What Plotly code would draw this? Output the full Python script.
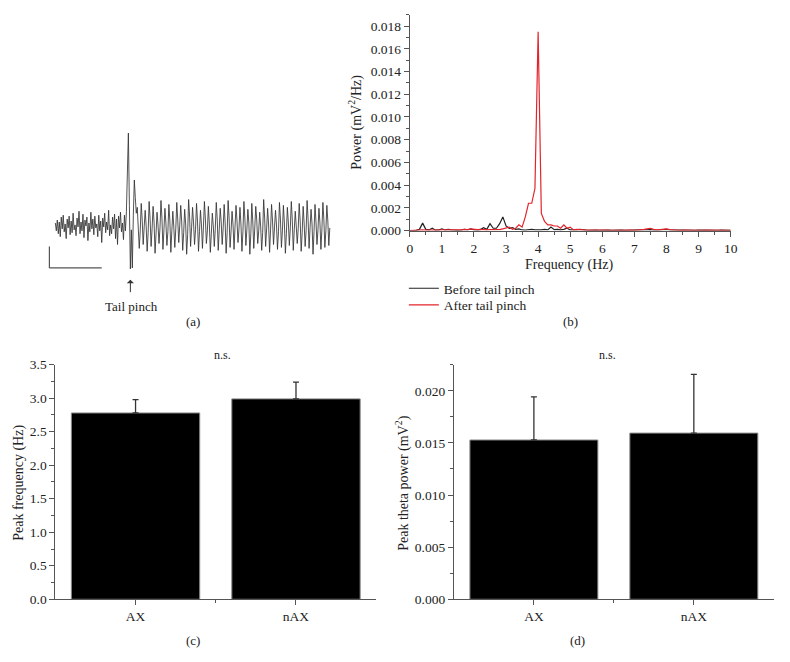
import plotly.graph_objects as go

W, H = 790, 662
FONT = "Liberation Serif"

# ---------------- data ----------------
# (a) raw trace amplitude (arbitrary units, one sample per time step)
trace_before = [2, -6, 5, -9, 3, -12, 8, -4, 10, -7, 1, -14, 6, -3, 9, -10, 4, -8, 12, -5,
                0, -11, 7, -2, 14, -9, 3, -6, 11, -13, 5, -1, 8, -16, 2, -7, 13, -4, 6, -10,
                9, -3, 1, -12, 10, -6, 4, -18, 7, -2, 12, -8, 3, -5, 15, -11, 0, -9, 8, -4,
                11, -14, 6, -20, 9, -3, 13, -7, 2, -15, 10, -6, 14]
trace_pinch = [60, 94, 20, -45, -5, -44, 10, 46, 28, 12]
trace_after = [18, 2, -24, -6, 22, 5, -20, -2, 15, -1, -27, -8, 24, 6, -22, -4, 19, 3, -29, -9,
               13, 0, -19, -3, 25, 7, -25, -5, 17, 2, -21, -7, 21, 4, -28, -6, 14, -2, -23, -4,
               23, 5, -18, -1, 20, 3, -26, -8, 16, 1, -30, -10, 26, 8, -22, -3, 18, 2, -20, -5,
               22, 4, -27, -7, 15, 0, -24, -2, 24, 6, -19, -6, 19, 1, -28, -9, 12, -1, -22, -4,
               23, 5, -26, -5, 17, 3, -20, -3, 21, 2, -29, -8, 25, 7, -23, -6, 14, 0, -25, -2,
               20, 4, -18, -4, 18, 1, -27, -7, 24, 6, -21, -5, 16, 2, -30, -9, 22, 3, -24, -3,
               19, 5, -19, -6, 13, -2, -26, -8, 26, 7, -22, -4, 17, 1, -28, -5, 21, 4, -20, -2,
               15, 0, -25, -7, 23, 6, -23, -6, 20, 2, -29, -9, 18, 3, -21, -3, 24, 5, -26, -5,
               14, -1, -19, -4, 22, 4, -27, -8, 19, 2, -22, -6, 25, 6, -24, -3, 16, 1, -30, -7,
               21, 3, -20, -5, 17, 2, -25, -4, 23, 5, -23, -6, 20, 4, -21, -3]
trace_a = trace_before + trace_pinch + trace_after

# (b) power spectra, 0.0 .. 10.0 Hz in 0.1 Hz steps
freq = [round(i * 0.1, 1) for i in range(101)]
power_before = [0, 0, 0.00002, 0.0001, 0.00065, 0.0001, 0.00005, 0.0002, 0.00003, 0.00005,
                0.00015, 0.00005, 0.0001, 0.00005, 0.00002, 0.00001, 0.00003, 0.0001, 0.00005, 0.00015,
                0.00005, 0.00003, 0.00008, 0.00025, 0.0001, 0.0006, 0.0002, 0.0002, 0.0006, 0.0012,
                0.0004, 0.0002, 0.00025, 0.0001, 0.00015, 0.00005, 0.00003, 0.00008, 0.0001, 0.00005,
                0.00002, 0.00005, 0.0001, 0.00005, 0.0003, 0.00008, 0.0001, 0.00005, 0.0001, 0.0002,
                0.00005, 0.00003, 0.00006, 0.0001, 0.00004, 0.00003, 0.00002, 0.00005, 0.00003, 0.00002,
                0.00004, 0.00002, 0.00003, 0.00002, 0.00004, 0.00002, 0.00003, 0.00002, 0.00003, 0.00002,
                0.00003, 0.00002, 0.00004, 0.00003, 0.00006, 0.00008, 0.00004, 0.00002, 0.00005, 0.00008,
                0.0001, 0.00005, 0.00003, 0.00002, 0.00003, 0.00004, 0.00002, 0.00003, 0.00002, 0.00002,
                0.00003, 0.00002, 0.00004, 0.00002, 0.00003, 0.00002, 0.00002, 0.00003, 0.00002, 0.00002,
                0.00002]
power_after = [0, 0.00003, 0.00005, 0.00003, 0.00006, 0.00004, 0.00003, 0.00005, 0.00004, 0.00003,
               0.00006, 0.00005, 0.00008, 0.00005, 0.00004, 0.00003, 0.00005, 0.0001, 0.00008, 0.00015,
               0.0001, 0.00008, 0.0001, 0.00006, 0.00005, 0.00007, 0.00006, 0.0001, 0.00008, 0.00015,
               0.0002, 0.0003, 0.0001, 0.0002, 0.0005, 0.0003, 0.0012, 0.0024, 0.0024, 0.0037,
               0.0175, 0.0015, 0.0008, 0.0005, 0.0005, 0.0004, 0.0004, 0.0002, 0.0005, 0.0002,
               0.0003, 0.00005, 0.0001, 0.0001, 0.00005, 0.00003, 0.00004, 0.00003, 0.00005, 0.00003,
               0.00002, 0.00003, 0.00002, 0.00003, 0.00002, 0.00003, 0.00002, 0.00003, 0.00002, 0.00003,
               0.00002, 0.00003, 0.00005, 0.0001, 0.00015, 0.0002, 0.0001, 0.00005, 0.00008, 0.0001,
               0.00015, 0.00008, 0.00004, 0.00003, 0.00002, 0.00003, 0.00002, 0.00003, 0.00002, 0.00002,
               0.00003, 0.00002, 0.00003, 0.00002, 0.00002, 0.00003, 0.00002, 0.00002, 0.00002, 0.00002,
               0.00002]

# (c), (d) group means and SEM
groups = ["AX", "nAX"]
peak_freq = [2.78, 2.99]
peak_freq_err = [0.20, 0.25]
peak_power = [0.01528, 0.01594]
peak_power_err = [0.00413, 0.00563]

# ---------------- helpers (screen px -> paper) ----------------
def px(x):
    return x / W

def py(y):
    return 1 - y / H

fig = go.Figure()

# (a) trace
fig.add_trace(go.Scatter(y=trace_a, x0=0, dx=1, mode="lines",
                         line=dict(color="#333333", width=0.85),
                         xaxis="x", yaxis="y", showlegend=False, hoverinfo="skip"))

# (b) spectra
fig.add_trace(go.Scatter(x=freq, y=power_before, mode="lines", name="Before tail pinch",
                         line=dict(color="#222222", width=1.2), xaxis="x2", yaxis="y2",
                         legend="legend"))
fig.add_trace(go.Scatter(x=freq, y=power_after, mode="lines", name="After tail pinch",
                         line=dict(color="#e3242b", width=1.2), xaxis="x2", yaxis="y2",
                         legend="legend2"))

# (c) bars
fig.add_trace(go.Bar(x=[0, 1], y=peak_freq, width=0.8,
                     marker=dict(color="black", line=dict(color="#8a8a8a", width=1)),
                     error_y=dict(type="data", symmetric=False, array=peak_freq_err,
                                  arrayminus=[0, 0], color="#333333", thickness=1.3, width=3),
                     xaxis="x3", yaxis="y3", showlegend=False))
# (d) bars
fig.add_trace(go.Bar(x=[0, 1], y=peak_power, width=0.8,
                     marker=dict(color="black", line=dict(color="#8a8a8a", width=1)),
                     error_y=dict(type="data", symmetric=False, array=peak_power_err,
                                  arrayminus=[0, 0], color="#333333", thickness=1.3, width=3),
                     xaxis="x4", yaxis="y4", showlegend=False))

tickfont = dict(family=FONT, size=13.5, color="#222")
axcommon = dict(showgrid=False, zeroline=False, showline=True, linecolor="#555", linewidth=1,
                ticks="outside", ticklen=5, tickcolor="#555", tickfont=tickfont)
minor_common = dict(ticks="outside", ticklen=3, tickcolor="#555")
hidden = dict(showgrid=False, zeroline=False, showline=False, showticklabels=False, ticks="")

fig.update_layout(
    xaxis=dict(domain=[px(45), px(335)], range=[-8, 282], anchor="y", **hidden),
    yaxis=dict(domain=[py(300), py(100)], range=[-77, 123], anchor="x", **hidden),
    xaxis2=dict(domain=[px(412), px(737)], range=[0, 10], dtick=1, anchor="y2",
                minor=dict(dtick=0.5, **minor_common), **axcommon),
    yaxis2=dict(domain=[py(228.7), py(8)], range=[0, 0.019], dtick=0.002, tickformat=".3f",
                anchor="x2", minor=dict(dtick=0.001, **minor_common), **axcommon),
    xaxis3=dict(domain=[px(53), px(378)], range=[-0.5, 1.5], tickmode="array", tickvals=[0, 1],
                ticktext=groups, anchor="y3",
                minor=dict(tickmode="array", tickvals=[0.5], **minor_common), **axcommon),
    yaxis3=dict(domain=[py(606), py(366)], range=[0, 3.5], dtick=0.5, tickformat=".1f",
                anchor="x3", minor=dict(dtick=0.25, **minor_common), **axcommon),
    xaxis4=dict(domain=[px(456.7), px(780.7)], range=[-0.5, 1.5], tickmode="array",
                tickvals=[0, 1], ticktext=groups, anchor="y4",
                minor=dict(tickmode="array", tickvals=[0.5], **minor_common), **axcommon),
    yaxis4=dict(domain=[py(606), py(366)], range=[0, 0.0225], dtick=0.005, tickformat=".3f",
                anchor="x4", minor=dict(dtick=0.0025, **minor_common), **axcommon),
)

# scale bar in (a)
fig.add_shape(type="line", xref="x", yref="y", x0=-6, x1=-6, y0=-22, y1=-44,
              line=dict(color="#555", width=1.2))
fig.add_shape(type="line", xref="x", yref="y", x0=-6, x1=47, y0=-44, y1=-44,
              line=dict(color="#555", width=1.2))

def ann(x, y, text, size=13, angle=0, xanchor="center", yanchor="middle"):
    fig.add_annotation(x=px(x), y=py(y), xref="paper", yref="paper", text=text,
                       showarrow=False, textangle=angle, xanchor=xanchor, yanchor=yanchor,
                       font=dict(family=FONT, size=size, color="#222"))

# arrow marking the tail pinch
fig.add_annotation(x=px(129), y=py(279), xref="paper", yref="paper", text="",
                   showarrow=True, ax=0, ay=14, arrowhead=1, arrowsize=1.2, arrowwidth=1,
                   arrowcolor="#333")
ann(130, 306, "Tail pinch", size=13)
ann(192, 322, "(a)", size=13)
ann(575, 322, "(b)", size=13)
ann(192, 648, "(c)", size=13)
ann(582, 648, "(d)", size=13)
ann(357, 118, "Power (mV<sup>2</sup>/Hz)", size=14, angle=-90)
ann(574, 264, "Frequency (Hz)", size=14)
ann(16, 487, "Peak frequency (Hz)", size=14, angle=-90)
ann(405, 487, "Peak theta power (mV<sup>2</sup>)", size=14, angle=-90)
ann(222, 356, "n.s.", size=12)
ann(612, 356, "n.s.", size=12)

legfont = dict(family=FONT, size=13.5, color="#222")
fig.update_layout(
    width=W, height=H, margin=dict(l=0, r=0, t=0, b=0),
    paper_bgcolor="white", plot_bgcolor="white",
    showlegend=True,
    legend=dict(x=px(406), y=py(288), xanchor="left", yanchor="middle", font=legfont,
                bgcolor="rgba(0,0,0,0)", itemwidth=30),
    legend2=dict(x=px(406), y=py(305), xanchor="left", yanchor="middle", font=legfont,
                 bgcolor="rgba(0,0,0,0)", itemwidth=30),
    bargap=0.2,
)

fig.write_html("out.html", config={"displayModeBar": False},
               post_script="document.body.style.margin='0';"
                           "document.body.style.overflow='hidden';")
